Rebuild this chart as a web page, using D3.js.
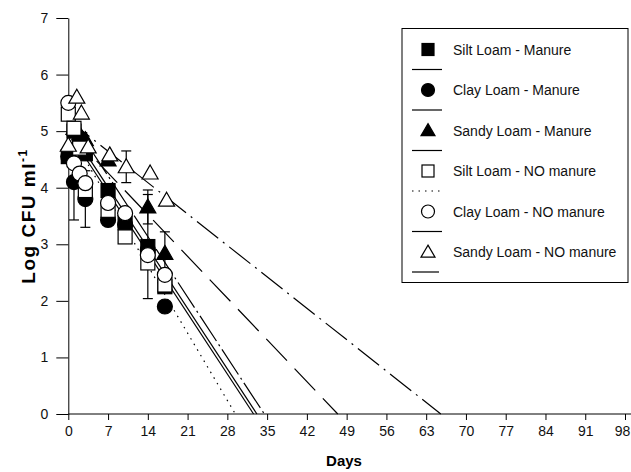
<!DOCTYPE html>
<html><head><meta charset="utf-8">
<script src="https://cdn.jsdelivr.net/npm/d3@7"></script>
<style>
html,body{margin:0;padding:0;background:#fff;}
svg{display:block;font-family:"Liberation Sans",Arial,sans-serif;}
</style></head>
<body><svg id="c" width="631" height="472"></svg>
<script>
// ---- data ----
const seriesNames = ["Silt Loam - Manure","Clay Loam - Manure","Sandy Loam - Manure",
                     "Silt Loam - NO manure","Clay Loam - NO manure","Sandy Loam - NO manure"];
const seriesShapes = ["square","circle","triangle","square","circle","triangle"];
const seriesFilled = [true,true,true,false,false,false];
const seriesDash = ["none","none","30,11","1.5,5","30,4,2,4","27,6,2,6"];

const siltManureDays = [0,1,2,3,7,10,14,17];
const siltManureVals = [4.55,5.0,4.85,4.6,3.95,3.38,2.96,2.25];
const siltManureErr  = [0,0,0,0,0,0,0.92,0];

const clayManureDays = [0,1,3,7,10,14,17];
const clayManureVals = [4.55,4.1,3.8,3.43,3.35,2.9,1.9];
const clayManureErr  = [0,0.67,0.5,0,0,0,0];

const sandyManureDays = [1,2,3,7,14,17];
const sandyManureVals = [5.05,4.95,4.85,4.49,3.66,2.84];
const sandyManureErr  = [0,0,0,0,0.3,0.38];

const siltNoDays = [0,1,2,3,7,10,14,17];
const siltNoVals = [5.3,5.05,4.7,3.95,3.6,3.13,2.67,2.28];
const siltNoErr  = [0,0,0,0,0,0,0,0];

const clayNoDays = [0,1,2,3,7,10,14,17];
const clayNoVals = [5.5,4.43,4.25,4.08,3.73,3.55,2.81,2.46];
const clayNoErr  = [0,0,0,0,0,0,0,0];

const sandyNoDays = [0,1.5,2.3,3.5,7.3,10.2,14.4,17.3];
const sandyNoVals = [4.75,5.6,5.32,4.72,4.58,4.37,4.26,3.78];
const sandyNoErr  = [0,0,0,0,0,0.28,0,0];

// regression lines: value = intercept - slope*day, drawn from day 0 to value 0
const fitIntercept = [5.08,4.99,5.0,5.0,5.28,5.2];
const fitSlope     = [0.153,0.153,0.1054,0.17,0.153,0.0793];

const xTicks = [0,7,14,21,28,35,42,49,56,63,70,77,84,91,98];
const yTicks = [0,1,2,3,4,5,6,7];

const allDays = [siltManureDays,clayManureDays,sandyManureDays,siltNoDays,clayNoDays,sandyNoDays];
const allVals = [siltManureVals,clayManureVals,sandyManureVals,siltNoVals,clayNoVals,sandyNoVals];
const allErr  = [siltManureErr,clayManureErr,sandyManureErr,siltNoErr,clayNoErr,sandyNoErr];

// ---- chart ----
const svg = d3.select("#c");
const x = d3.scaleLinear().domain([0,98]).range([68.3,625]);
const y = d3.scaleLinear().domain([0,7]).range([414,18]);

// axes
const gx = svg.append("g").attr("transform","translate(0,414)")
  .call(d3.axisBottom(x).tickValues(xTicks).tickFormat(d3.format("d")).tickSize(6).tickPadding(6).tickSizeOuter(0));
gx.select(".domain").attr("d","M68.3,0H631");
gx.selectAll(".tick text").filter(d=>d===98).attr("dx",-3);
const gy = svg.append("g").attr("transform","translate(68.3,0)")
  .call(d3.axisLeft(y).tickValues(yTicks).tickFormat(d3.format("d")).tickSize(12).tickPadding(8).tickSizeOuter(0));
[gx,gy].forEach(g=>{
  g.selectAll("text").attr("font-size",14).attr("fill","#111").attr("font-family","Liberation Sans, Arial, sans-serif");
  g.selectAll("line,path").attr("stroke","#000").attr("stroke-width",1);
});

svg.append("text").attr("x",344).attr("y",466).attr("text-anchor","middle")
  .attr("font-size",15).attr("font-weight","bold").text("Days");
const yt = svg.append("text").attr("transform","translate(35,216) rotate(-90)")
  .attr("text-anchor","middle").attr("font-size",19).attr("font-weight","bold").attr("letter-spacing",1.5);
yt.append("tspan").text("Log CFU ml");
yt.append("tspan").attr("font-size",12).attr("dy",-8).text("-1");

// regression lines
const line = d3.line().x(d=>x(d[0])).y(d=>y(d[1]));
fitIntercept.forEach((a,i)=>{
  const b = fitSlope[i];
  svg.append("path").attr("d",line([[0,a],[a/b,0]]))
    .attr("fill","none").attr("stroke","#000").attr("stroke-width",1.2)
    .attr("stroke-dasharray",seriesDash[i]);
});

// error bars
allDays.forEach((ds,i)=>{
  ds.forEach((d,j)=>{
    const e = allErr[i][j];
    if(!e) return;
    const v = allVals[i][j], cx = x(d);
    const g = svg.append("g").attr("stroke","#000").attr("stroke-width",1.2);
    g.append("line").attr("x1",cx).attr("x2",cx).attr("y1",y(v+e)).attr("y2",y(v-e));
    [v+e,v-e].forEach(t=>g.append("line").attr("x1",cx-5).attr("x2",cx+5).attr("y1",y(t)).attr("y2",y(t)));
  });
});

// markers
function marker(g,shape,filled,cx,cy,s){
  const fill = filled?"#000":"#fff";
  let el;
  if(shape==="square") el=g.append("rect").attr("x",cx-s/2).attr("y",cy-s/2).attr("width",s).attr("height",s);
  else if(shape==="circle") el=g.append("circle").attr("cx",cx).attr("cy",cy).attr("r",s/2+0.5);
  else { const h=s*0.95; el=g.append("path").attr("d",`M${cx},${cy-h*0.6}L${cx+s/2+1},${cy+h*0.45}L${cx-s/2-1},${cy+h*0.45}Z`); }
  el.attr("fill",fill).attr("stroke","#000").attr("stroke-width",1.2);
}
allDays.forEach((ds,i)=>{
  const g = svg.append("g");
  ds.forEach((d,j)=>marker(g,seriesShapes[i],seriesFilled[i],x(d),y(allVals[i][j]),14));
});

// legend
const lg = svg.append("g");
lg.append("rect").attr("x",402).attr("y",28.5).attr("width",226).attr("height",254)
  .attr("fill","#fff").attr("stroke","#000").attr("stroke-width",1);
seriesNames.forEach((n,i)=>{
  const ty = 49.5 + i*40.5;
  marker(lg,seriesShapes[i],seriesFilled[i],428,ty,12);
  lg.append("text").attr("x",453).attr("y",ty+5).attr("font-size",14).attr("fill","#111").text(n);
  lg.append("line").attr("x1",412).attr("x2",442).attr("y1",ty+20).attr("y2",ty+20)
    .attr("stroke","#000").attr("stroke-width",1.2).attr("stroke-dasharray",seriesDash[i]);
});
</script></body></html>
